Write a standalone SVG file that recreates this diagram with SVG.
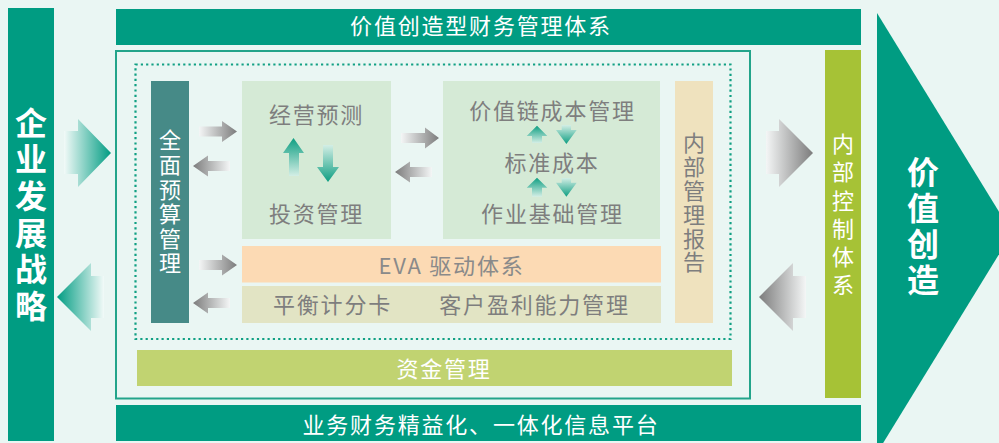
<svg xmlns="http://www.w3.org/2000/svg" width="999" height="443" viewBox="0 0 999 443">
<defs>
<style>
.cjk{font-family:"Noto Sans CJK SC","Noto Sans",sans-serif;}
.wt{fill:#FFFFFF;font-size:22px;letter-spacing:1.8px;}
.gt{fill:#7E7E7E;font-size:22px;letter-spacing:1.8px;}
.big{fill:#FFFFFF;font-size:32px;font-weight:bold;}
.teal{fill:#009C82;}
.mid{text-anchor:middle;}
</style>
<linearGradient id="gTealR" x1="0" y1="0" x2="1" y2="0"><stop offset="0" stop-color="#F2FAF8"/><stop offset="1" stop-color="#009C82"/></linearGradient>
<linearGradient id="gTealL" x1="0" y1="0" x2="1" y2="0"><stop offset="0" stop-color="#009C82"/><stop offset="1" stop-color="#F2FAF8"/></linearGradient>
<linearGradient id="gGrayR" x1="0" y1="0" x2="1" y2="0"><stop offset="0" stop-color="#F4F6F6"/><stop offset="1" stop-color="#7C7C7C"/></linearGradient>
<linearGradient id="gGrayL" x1="0" y1="0" x2="1" y2="0"><stop offset="0" stop-color="#7C7C7C"/><stop offset="1" stop-color="#F4F6F6"/></linearGradient>
<linearGradient id="gUp" x1="0" y1="0" x2="0" y2="1"><stop offset="0" stop-color="#0E9E82"/><stop offset="1" stop-color="#D3EEE5"/></linearGradient>
<linearGradient id="gDown" x1="0" y1="0" x2="0" y2="1"><stop offset="0" stop-color="#D3EEE5"/><stop offset="1" stop-color="#0E9E82"/></linearGradient>
</defs>
<rect x="0" y="0" width="999" height="443" fill="#EAF6F3"/>

<g id="strategy">
<rect x="8" y="8" width="46" height="433" class="teal"/>
<text class="cjk big mid"><tspan x="31" y="134.7">企</tspan><tspan x="31" y="171.3">业</tspan><tspan x="31" y="207.9">发</tspan><tspan x="31" y="244.5">展</tspan><tspan x="31" y="281.1">战</tspan><tspan x="31" y="317.7">略</tspan></text>
</g>

<g id="value-creation">
<polygon points="877,13 1012,233 877,453" class="teal"/>
<text class="cjk big mid"><tspan x="923" y="183.5">价</tspan><tspan x="923" y="219.8">值</tspan><tspan x="923" y="256.1">创</tspan><tspan x="923" y="292.4">造</tspan></text>
</g>

<g id="title-system">
<rect x="116" y="9" width="745" height="36" class="teal"/>
<text class="cjk wt mid" x="481" y="34">价值创造型财务管理体系</text>
</g>

<g id="platform">
<rect x="116" y="405" width="745" height="36" class="teal"/>
<text class="cjk wt mid" x="481" y="432.5">业务财务精益化、一体化信息平台</text>
</g>

<g id="frame">
<rect x="116" y="51" width="634" height="347.5" fill="none" stroke="#23A48A" stroke-width="2"/>
<rect x="135.5" y="64.5" width="595" height="274.5" fill="none" stroke="#11A084" stroke-width="2.2" stroke-dasharray="2.2 3.1"/>
</g>

<g id="budget">
<rect x="151" y="81" width="38" height="242" fill="#468A87"/>
<text class="cjk wt mid" style="letter-spacing:0"><tspan x="170" y="148.4">全</tspan><tspan x="170" y="173">面</tspan><tspan x="170" y="197.6">预</tspan><tspan x="170" y="222.2">算</tspan><tspan x="170" y="246.8">管</tspan><tspan x="170" y="271.4">理</tspan></text>
</g>

<g id="forecast-investment">
<rect x="242" y="81" width="149" height="158" fill="#D5EAD6"/>
<text class="cjk gt mid" x="316.5" y="122.5">经营预测</text>
<text class="cjk gt mid" x="316.5" y="221.5">投资管理</text>
</g>

<g id="value-chain">
<rect x="443" y="81" width="217" height="158" fill="#D5EAD6"/>
<text class="cjk gt mid" x="552.5" y="118.5">价值链成本管理</text>
<text class="cjk gt mid" x="552" y="170.5">标准成本</text>
<text class="cjk gt mid" x="552.5" y="221.5">作业基础管理</text>
</g>

<g id="eva">
<rect x="242" y="246" width="419" height="36.5" fill="#FCDAB4"/>
<text class="cjk gt mid" x="451.5" y="273.5" style="fill:#8A8A8A">EVA 驱动体系</text>
</g>

<g id="scorecard">
<rect x="242" y="286" width="419" height="37" fill="#E2E4C4"/>
<text class="cjk gt mid" x="332.5" y="312.5">平衡计分卡</text>
<text class="cjk gt mid" x="534.5" y="312.5">客户盈利能力管理</text>
</g>

<g id="internal-report">
<rect x="675" y="81" width="38" height="242" fill="#EFE2BE"/>
<text class="cjk gt mid" style="letter-spacing:0"><tspan x="694" y="151.4">内</tspan><tspan x="694" y="175.2">部</tspan><tspan x="694" y="199">管</tspan><tspan x="694" y="222.8">理</tspan><tspan x="694" y="246.6">报</tspan><tspan x="694" y="270.4">告</tspan></text>
</g>

<g id="funds">
<rect x="137" y="350" width="595" height="36" fill="#C1D371"/>
<text class="cjk wt mid" x="444" y="376.5">资金管理</text>
</g>

<g id="internal-control">
<rect x="825" y="50" width="36" height="348" fill="#A6C236"/>
<text class="cjk wt mid" style="letter-spacing:0"><tspan x="843" y="152.2">内</tspan><tspan x="843" y="180.4">部</tspan><tspan x="843" y="208.6">控</tspan><tspan x="843" y="236.8">制</tspan><tspan x="843" y="265">体</tspan><tspan x="843" y="293.2">系</tspan></text>
</g>

<g id="connectors">
<polygon points="64,131 78,131 78,119 111,153 78,187 78,174 64,174" fill="url(#gTealR)"/>
<polygon points="57,297 91,263 91,276 104,276 104,318 91,318 91,331" fill="url(#gTealL)"/>
<polygon points="766,131 779,131 779,119 813,153 779,187 779,174 766,174" fill="url(#gGrayR)"/>
<polygon points="759,297 793,263 793,276 806,276 806,318 793,318 793,331" fill="url(#gGrayL)"/>

<polygon points="199,126.5 222,126.5 222,121 237,131.5 222,142 222,136.5 199,136.5" fill="url(#gGrayR)"/>
<polygon points="193,166 208,155.5 208,161 230,161 230,171 208,171 208,176.5" fill="url(#gGrayL)"/>
<polygon points="199,260 222,260 222,254.5 237,265 222,275.5 222,270 199,270" fill="url(#gGrayR)"/>
<polygon points="193,303 208,292.5 208,298 230,298 230,308 208,308 208,313.5" fill="url(#gGrayL)"/>

<polygon points="401,133 425,133 425,127.5 439,138 425,148.5 425,143 401,143" fill="url(#gGrayR)"/>
<polygon points="395,172 410,161.5 410,167 432,167 432,177 410,177 410,182.5" fill="url(#gGrayL)"/>

<polygon points="293.5,138 304,153 299,153 299,176 289,176 289,153 283,153" fill="url(#gUp)"/>
<polygon points="323,145 333,145 333,167 339,167 328,182 317,167 323,167" fill="url(#gDown)"/>

<polygon points="537,125.7 547.3,136 542,136 542,143 532,143 532,136 526.7,136" fill="url(#gUp)"/>
<polygon points="561.7,125 571,125 571,130 576.7,130 566.4,144 556,130 561.7,130" fill="url(#gDown)"/>
<polygon points="537,177.7 547.3,187.7 542,187.7 542,196.7 532,196.7 532,187.7 526.7,187.7" fill="url(#gUp)"/>
<polygon points="561.7,178 571,178 571,182.7 576.7,182.7 566.4,196.7 556,182.7 561.7,182.7" fill="url(#gDown)"/>
</g>
</svg>
